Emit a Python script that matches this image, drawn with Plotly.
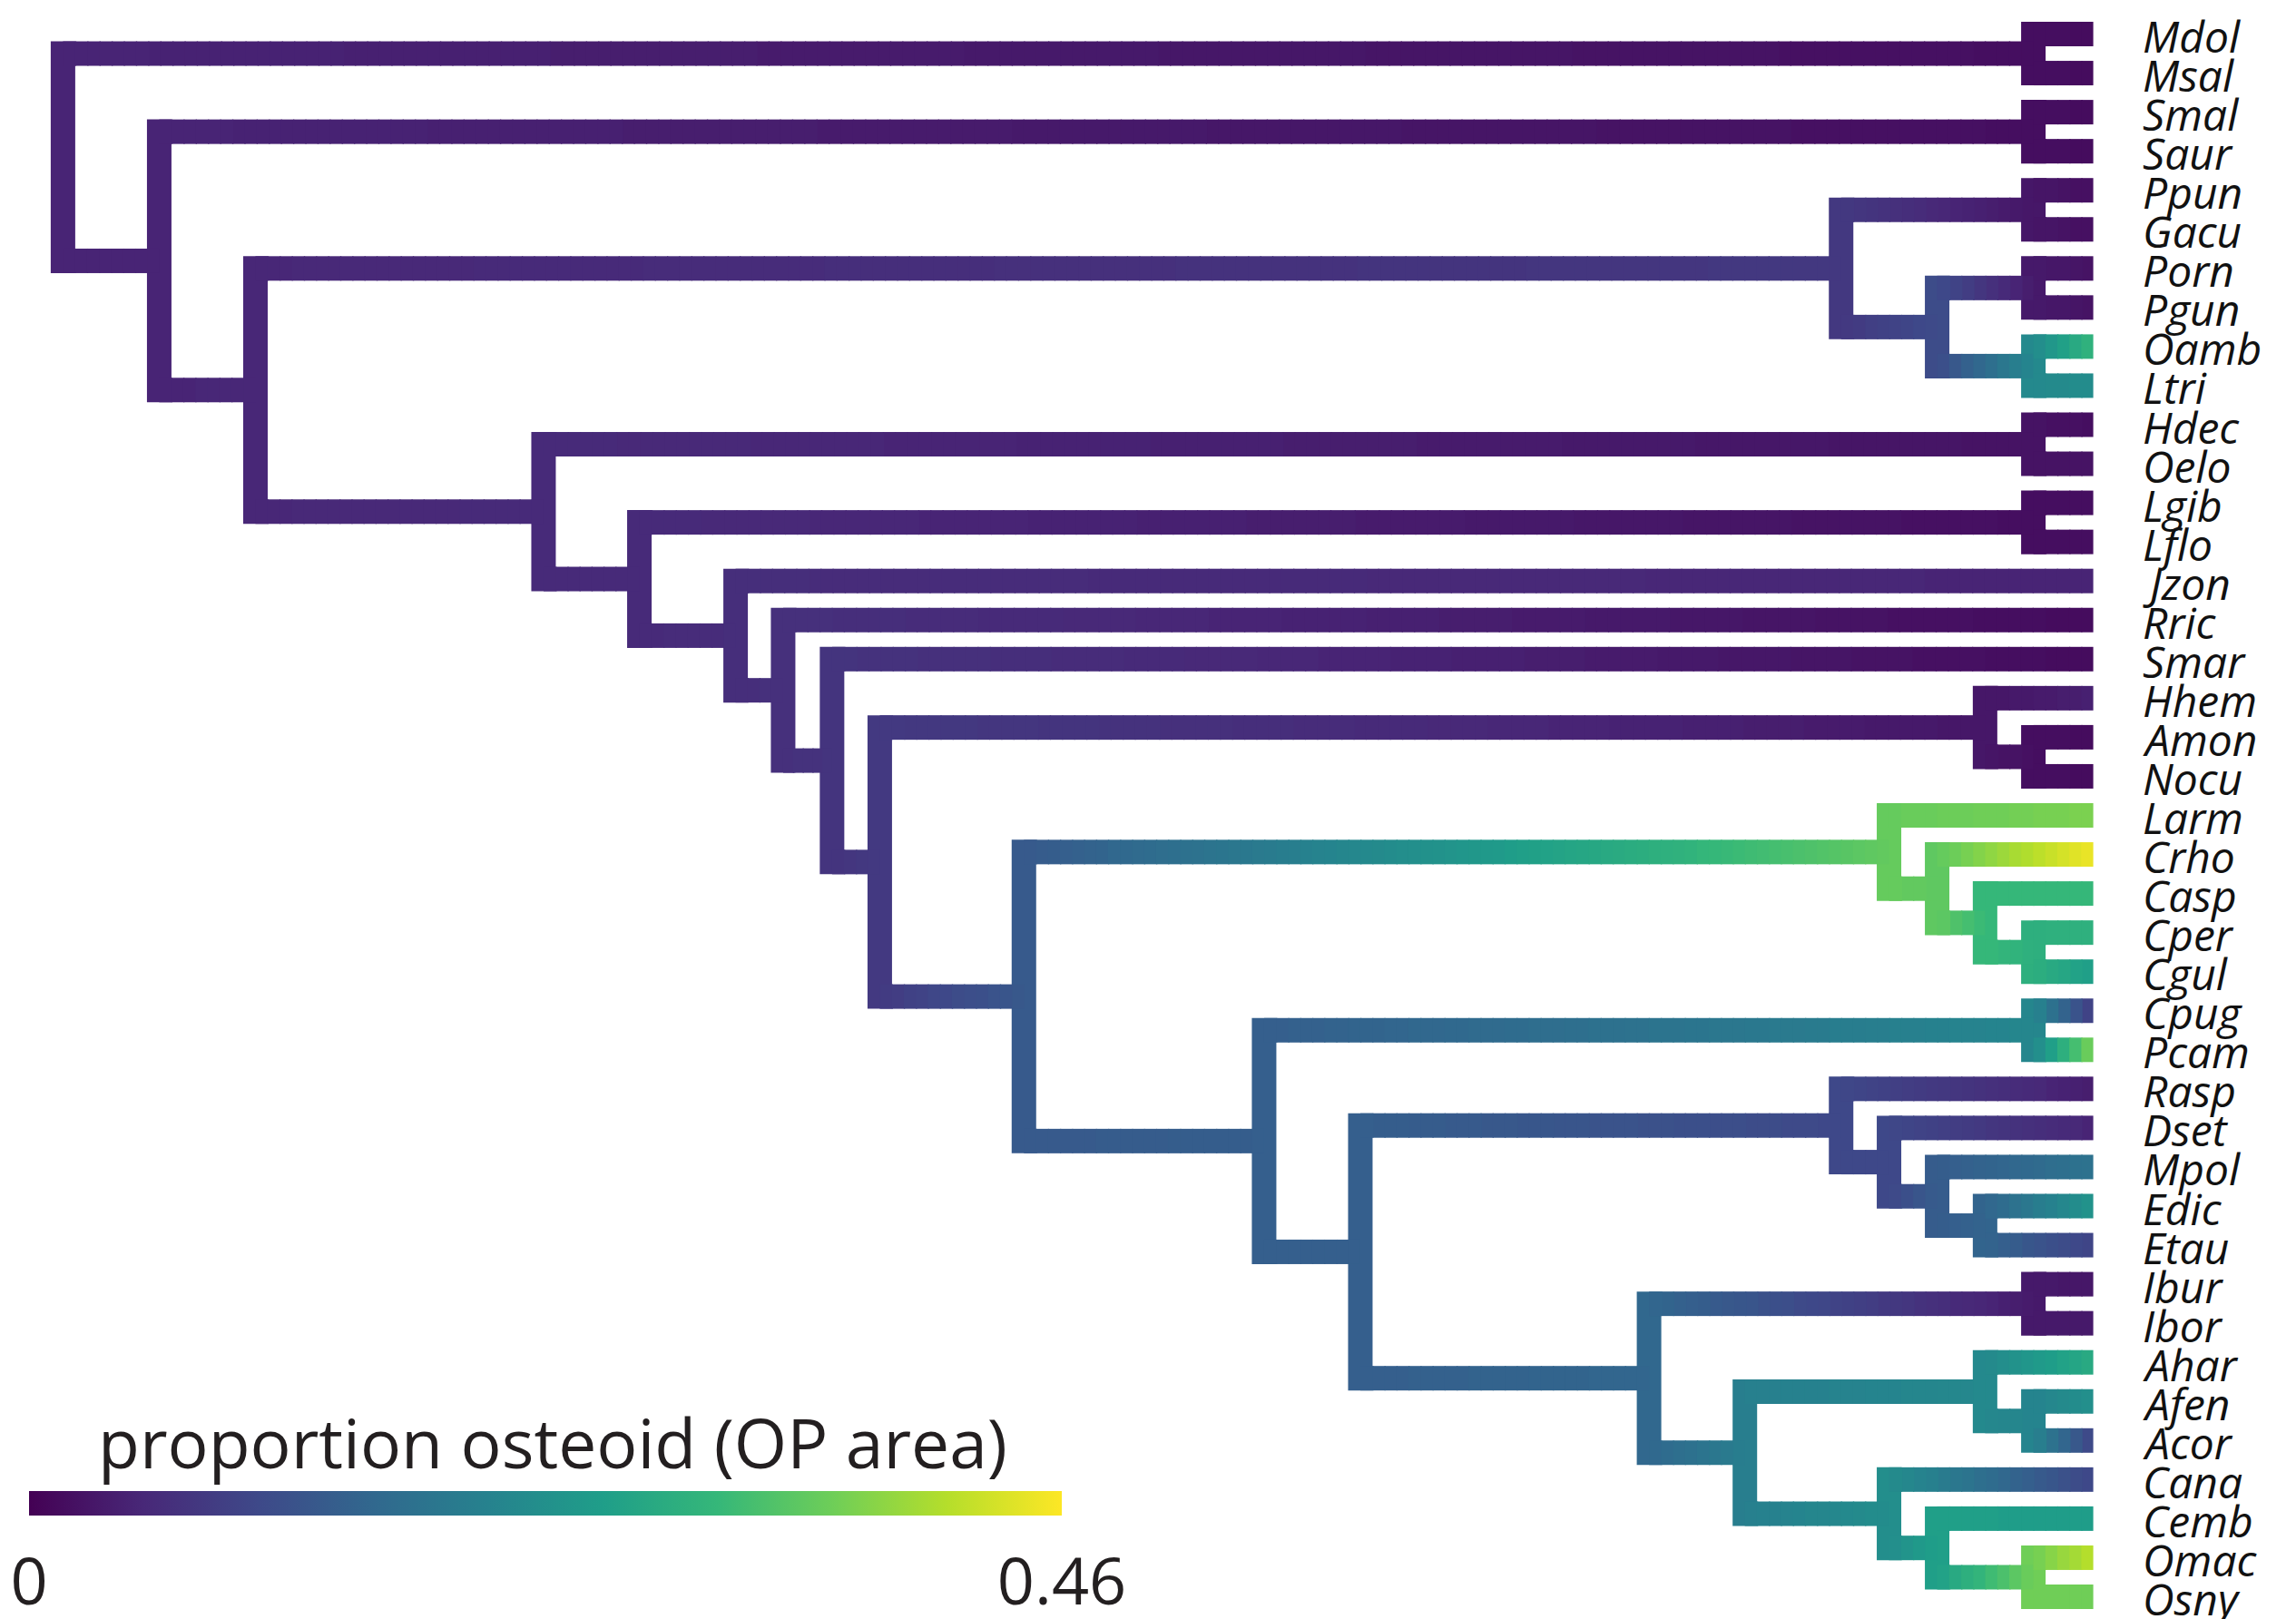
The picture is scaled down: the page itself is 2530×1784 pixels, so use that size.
import math
import plotly.graph_objects as go
from plotly.colors import sample_colorscale

# ---------------- data ----------------
tip_labels = ["Mdol", "Msal", "Smal", "Saur", "Ppun", "Gacu", "Porn", "Pgun", "Oamb", "Ltri",
              "Hdec", "Oelo", "Lgib", "Lflo", "Jzon", "Rric", "Smar", "Hhem", "Amon", "Nocu",
              "Larm", "Crho", "Casp", "Cper", "Cgul", "Cpug", "Pcam", "Rasp", "Dset", "Mpol",
              "Edic", "Etau", "Ibur", "Ibor", "Ahar", "Afen", "Acor", "Cana", "Cemb", "Omac", "Osny"]
# proportion osteoid (OP area) at the tips
tip_values = [0.014, 0.014, 0.014, 0.014, 0.018, 0.018, 0.023, 0.023, 0.304, 0.225,
              0.018, 0.023, 0.018, 0.018, 0.046, 0.014, 0.014, 0.041, 0.014, 0.014,
              0.368, 0.451, 0.308, 0.294, 0.253, 0.078, 0.368, 0.037, 0.046, 0.175,
              0.239, 0.092, 0.028, 0.032, 0.281, 0.230, 0.092, 0.097, 0.253, 0.414, 0.359]

# internal nodes (N1 = root), their two children, relative depth (root 0, tips 1) and reconstructed value
node_names = ["N%d" % i for i in range(1, 41)]
node_children = [
    ("N2", "N3"), ("Mdol", "Msal"), ("N4", "N5"), ("Smal", "Saur"), ("N6", "N11"),
    ("N7", "N8"), ("Ppun", "Gacu"), ("N9", "N10"), ("Porn", "Pgun"), ("Oamb", "Ltri"),
    ("N12", "N13"), ("Hdec", "Oelo"), ("N14", "N15"), ("Lgib", "Lflo"), ("Jzon", "N16"),
    ("Rric", "N17"), ("Smar", "N18"), ("N19", "N21"), ("Hhem", "N20"), ("Amon", "Nocu"),
    ("N22", "N26"), ("Larm", "N23"), ("Crho", "N24"), ("Casp", "N25"), ("Cper", "Cgul"),
    ("N27", "N28"), ("Cpug", "Pcam"), ("N29", "N33"), ("Rasp", "N30"), ("Dset", "N31"),
    ("Mpol", "N32"), ("Edic", "Etau"), ("N34", "N35"), ("Ibur", "Ibor"), ("N36", "N38"),
    ("Ahar", "N37"), ("Afen", "Acor"), ("Cana", "N39"), ("Cemb", "N40"), ("Omac", "Osny")]
node_depths = [0.0, 0.9705, 0.0474, 0.9705, 0.0948,
               0.8758, 0.9705, 0.9231, 0.9705, 0.9705,
               0.2367, 0.9705, 0.2839, 0.9705, 0.3313,
               0.3547, 0.3788, 0.4023, 0.9467, 0.9705,
               0.4733, 0.8994, 0.9231, 0.9467, 0.9705,
               0.5916, 0.9705, 0.6390, 0.8758, 0.8994,
               0.9231, 0.9467, 0.7812, 0.9705, 0.8284,
               0.9467, 0.9705, 0.8994, 0.9231, 0.9705]
node_values = [0.046, 0.018, 0.046, 0.018, 0.050,
               0.076, 0.028, 0.106, 0.032, 0.216,
               0.055, 0.023, 0.055, 0.018, 0.060,
               0.064, 0.069, 0.078, 0.028, 0.018,
               0.129, 0.350, 0.345, 0.308, 0.290,
               0.138, 0.212, 0.138, 0.101, 0.101,
               0.133, 0.147, 0.152, 0.032, 0.198,
               0.216, 0.207, 0.225, 0.258, 0.359]
tip_depth = 1.0
value_range = [0.0, 0.46]
value_ticktext = ["0", "0.46"]
colorbar_title = "proportion osteoid (OP area)"

# ---------------- geometry ----------------
W, H = 2530, 1784
OFF = 8  # default page margin of the html body
ROOT_PX, TIP_PX = 69.4 - OFF, 2306.6 - OFF
FIRST_TIP_PX, TIP_STEP_PX = 37.5 - OFF, 43.05
LW = 27
x_scale = (TIP_PX - ROOT_PX) / tip_depth
x_range = [-ROOT_PX / x_scale, (W - ROOT_PX) / x_scale]
y_range = [(H - FIRST_TIP_PX) / TIP_STEP_PX, -FIRST_TIP_PX / TIP_STEP_PX]
half_lw_y = LW / 2 / TIP_STEP_PX

depth = {n: d for n, d in zip(node_names, node_depths)}
value = {n: v for n, v in zip(node_names, node_values)}
children = {n: c for n, c in zip(node_names, node_children)}
ypos = {}
for i, t in enumerate(tip_labels):
    depth[t] = tip_depth
    value[t] = tip_values[i]
    ypos[t] = i


def get_y(n):
    if n not in ypos:
        ypos[n] = sum(get_y(c) for c in children[n]) / 2
    return ypos[n]


for n in node_names:
    get_y(n)

NBINS = 160
vmin, vmax = value_range


def vbin(v):
    t = (v - vmin) / (vmax - vmin)
    return min(NBINS - 1, max(0, int(round(t * (NBINS - 1)))))


bin_colors = sample_colorscale("Viridis", [i / (NBINS - 1) for i in range(NBINS)])
vert = {}
horiz = {}


def add(store, b, xs, ys):
    sx, sy = store.setdefault(b, ([], []))
    sx.extend(xs + [None])
    sy.extend(ys + [None])


STEP = 0.006
OVER = 0.0006
for n in node_names:
    c1, c2 = children[n]
    ys = sorted([ypos[c1], ypos[c2]])
    add(vert, vbin(value[n]), [depth[n], depth[n]], [ys[0] - half_lw_y, ys[1] + half_lw_y])
    for c in (c1, c2):
        x0, x1 = depth[n], depth[c]
        v0, v1 = value[n], value[c]
        k = max(1, math.ceil((x1 - x0) / STEP))
        for j in range(k):
            a = x0 + (x1 - x0) * j / k
            b = x0 + (x1 - x0) * (j + 1) / k
            vm = v0 + (v1 - v0) * (j + 0.5) / k
            add(horiz, vbin(vm), [a, min(b + OVER, x1)], [ypos[c], ypos[c]])

fig = go.Figure()
for store in (vert, horiz):
    for b, (xs, ys) in sorted(store.items()):
        fig.add_trace(go.Scatter(x=xs, y=ys, mode="lines", hoverinfo="skip",
                                 line=dict(color=bin_colors[b], width=LW), showlegend=False))

# colour scale bar
BAR_X0, BAR_X1, BAR_TOP = 32 - OFF, 1170 - OFF, 1643 - OFF
fig.add_trace(go.Scatter(
    x=[x_range[0]], y=[y_range[0]], mode="markers", hoverinfo="skip", showlegend=False,
    marker=dict(size=1, opacity=0, color=[vmin], colorscale="Viridis", cmin=vmin, cmax=vmax,
                showscale=True,
                colorbar=dict(orientation="h", x=BAR_X0 / W, xanchor="left",
                              len=(BAR_X1 - BAR_X0) / W, lenmode="fraction",
                              y=1 - BAR_TOP / H, yanchor="top",
                              thickness=27, thicknessmode="pixels", outlinewidth=0,
                              xpad=0, ypad=0,
                              tickvals=value_range, ticktext=value_ticktext,
                              ticks="outside", ticklen=12, tickcolor="rgba(0,0,0,0)",
                              tickfont=dict(family="Open Sans", size=72, color="#231f20")))))

fig.add_annotation(x=(609 - OFF) / W, y=1 - (1589 - OFF) / H, xref="paper", yref="paper",
                   text=colorbar_title, showarrow=False, xanchor="center", yanchor="middle",
                   font=dict(family="Open Sans", size=75, color="#231f20"))

for i, t in enumerate(tip_labels):
    fig.add_annotation(x=tip_depth, y=i, text="<i>%s</i>" % t, showarrow=False,
                       xanchor="left", yanchor="middle", xshift=52, yshift=-2,
                       font=dict(family="Open Sans", size=48, color="#111111"))

fig.update_layout(
    width=W, height=H, margin=dict(l=0, r=0, t=0, b=0),
    paper_bgcolor="white", plot_bgcolor="white",
    xaxis=dict(range=x_range, visible=False, fixedrange=True),
    yaxis=dict(range=y_range, visible=False, fixedrange=True),
)
fig.write_html("out.html")
